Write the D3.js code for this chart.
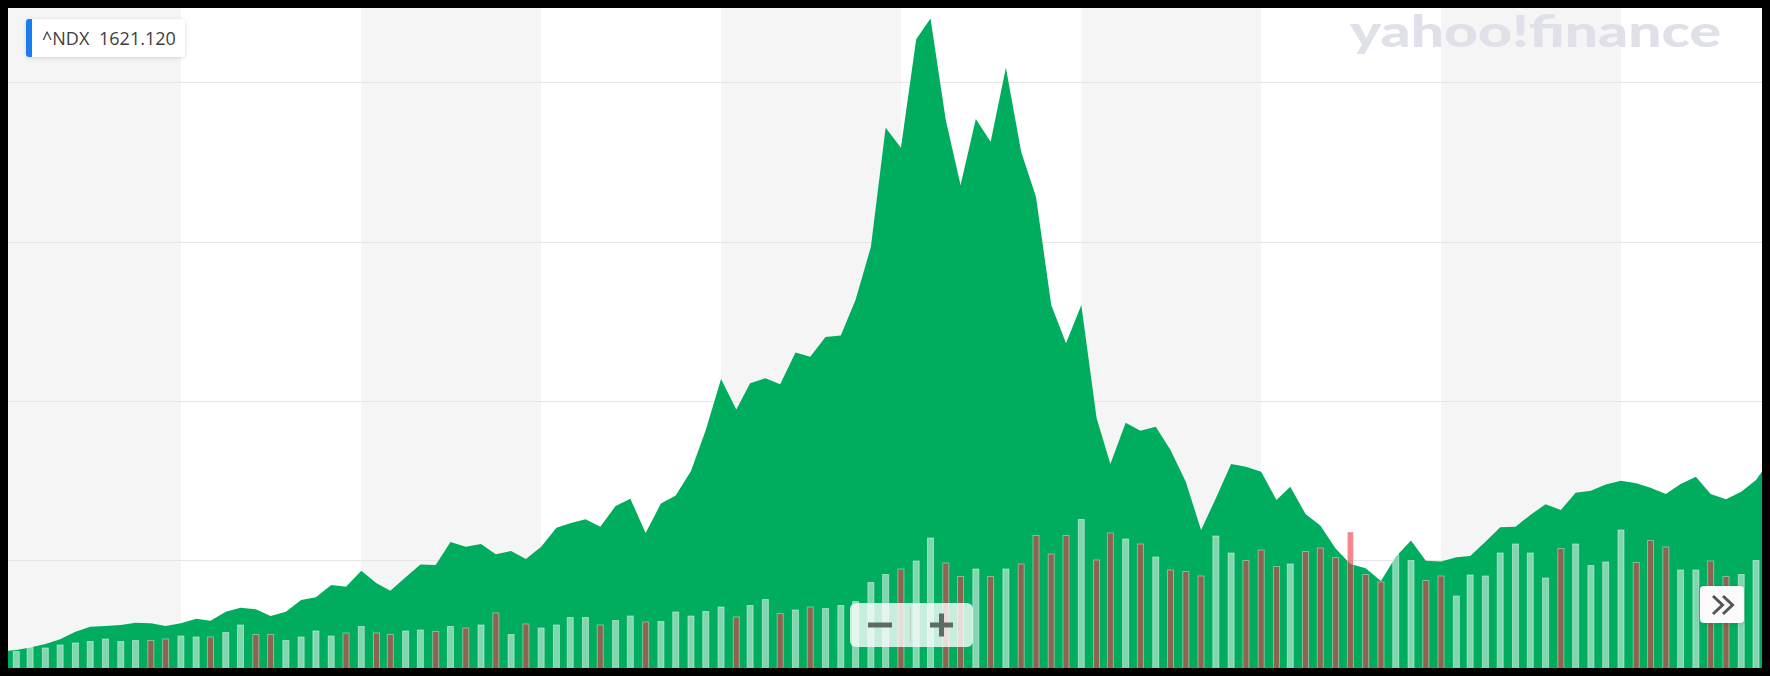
<!DOCTYPE html>
<html><head><meta charset="utf-8">
<script src="https://cdn.jsdelivr.net/npm/d3@7"></script>
<style>html,body{margin:0;padding:0;background:#000;}svg{display:block}</style>
</head><body>
<svg id="chart" width="1770" height="676"></svg>
<script>
// ---- data ----
const symbol = "^NDX";
const lastValueLabel = "1621.120";
const watermark = "yahoo!finance";
const firstMonth = "1995-01-01";
// monthly close, Jan 1995 .. Dec 2004
const closes = [
  425,435,450,472,502,550,581,586,592,606,602,585,
  602,631,619,675,700,690,648,675,749,766,843,832,
  933,854,807,891,972,969,1113,1084,1100,1036,1057,1006,
  1084,1203,1231,1256,1209,1339,1385,1170,1355,1405,1559,1817,
  2137,1945,2111,2142,2104,2303,2277,2400,2410,2634,2966,3715,
  3590,4271,4402,3764,3355,3770,3627,4092,3565,3282,2602,2361,
  2602,1892,1603,1862,1812,1837,1691,1492,1188,1388,1603,1586,
  1555,1377,1460,1289,1217,1073,975,948,868,1021,1122,996,
  991,1017,1025,1115,1205,1209,1283,1350,1314,1423,1435,1475,
  1498,1482,1454,1415,1477,1523,1415,1381,1429,1502,1641,1621.12
];
// monthly volume (relative units), Jan 1995 .. Oct 2004 (visible part)
const volumes = [
  3.2,3.4,4.2,4.1,4.7,5.1,5.4,5.9,5.4,5.6,5.6,5.9,
  6.5,6.3,6.3,7.2,8.7,6.8,6.8,5.6,6.3,7.5,6.5,7.1,
  8.4,7.1,6.8,7.5,7.7,7.4,8.4,8.1,8.7,11.1,6.8,8.9,
  8.1,8.7,10.2,10.2,8.7,9.6,10.5,9.3,9.4,11.3,10.5,11.4,
  12.3,10.3,12.6,13.8,11.0,11.7,12.3,12.0,12.6,13.4,17.2,18.8,
  19.9,21.5,26.1,21.1,18.4,19.9,18.4,19.9,20.9,26.6,22.9,26.6,
  29.8,21.7,27.1,25.9,24.9,22.3,19.7,19.4,18.5,26.5,23.1,21.6,
  23.7,20.4,20.9,23.4,24.1,22.2,27.3,18.8,17.3,22.8,21.6,17.6,
  18.5,14.5,18.7,18.5,23.1,24.9,23.1,18.1,24.0,24.9,20.6,21.3,
  27.7,21.2,25.6,24.3,19.7,19.7,21.5,18.4,18.8,21.6
];
const gridTicks = [1000, 2000, 3000, 4000];
const years = [1995,1996,1997,1998,1999,2000,2001,2002,2003,2004,2005];

// ---- build ----
const W = 1770, H = 676;
const inner = {x0: 8, y0: 8, x1: 1762, y1: 668};
const start = new Date(firstMonth + "T00:00:00Z");
const dates = closes.map((_, i) => d3.utcMonth.offset(start, i));
const priceData = closes.map((c, i) => ({date: dates[i], close: c}));
const volData = volumes.map((v, i) => ({
  date: dates[i], vol: v,
  up: i === 0 ? true : closes[i] >= closes[i - 1]
}));

const x = d3.scaleUtc().domain([dates[0], dates[117]]).range([1, 1756]);
const y = d3.scaleLinear().domain([1000, 4000]).range([560, 82.4]);
const yv = d3.scaleLinear().domain([0, 40]).range([inner.y1, inner.y1 - 200]);

const svg = d3.select("#chart");
svg.append("rect").attr("width", W).attr("height", H).attr("fill", "#000");

const defs = svg.append("defs");
defs.append("clipPath").attr("id", "plotClip").append("rect")
  .attr("x", inner.x0).attr("y", inner.y0)
  .attr("width", inner.x1 - inner.x0).attr("height", inner.y1 - inner.y0);
const sh = defs.append("filter").attr("id", "shadow").attr("x", "-20%").attr("y", "-40%")
  .attr("width", "140%").attr("height", "180%");
sh.append("feDropShadow").attr("dx", 0).attr("dy", 1).attr("stdDeviation", 2)
  .attr("flood-color", "#000").attr("flood-opacity", 0.15);

const g = svg.append("g").attr("clip-path", "url(#plotClip)");
g.append("rect").attr("x", inner.x0).attr("y", inner.y0)
  .attr("width", inner.x1 - inner.x0).attr("height", inner.y1 - inner.y0).attr("fill", "#fff");

// alternating year bands
g.selectAll("rect.band").data(years.slice(0, -1).filter((yr, i) => i % 2 === 0)).join("rect")
  .attr("class", "band")
  .attr("x", d => x(new Date(Date.UTC(d, 0, 1))))
  .attr("width", d => x(new Date(Date.UTC(d + 1, 0, 1))) - x(new Date(Date.UTC(d, 0, 1))))
  .attr("y", inner.y0).attr("height", inner.y1 - inner.y0)
  .attr("fill", "#f5f5f5");

// grid lines
g.selectAll("line.grid").data(gridTicks).join("line")
  .attr("class", "grid")
  .attr("x1", inner.x0).attr("x2", inner.x1)
  .attr("y1", d => Math.round(y(d)) + 0.5).attr("y2", d => Math.round(y(d)) + 0.5)
  .attr("stroke", "#e6e6e6").attr("stroke-width", 1);

// watermark
g.append("text").attr("x", 1350).attr("y", 47)
  .attr("font-family", "Lato, 'Open Sans', sans-serif").attr("font-weight", 900)
  .attr("font-size", 44).attr("fill", "#dfe0e8")
  .attr("textLength", 371).attr("lengthAdjust", "spacingAndGlyphs")
  .text(watermark);

// price area
const area = d3.area().x(d => x(d.date)).y0(inner.y1).y1(d => y(d.close));
g.append("path").datum(priceData).attr("d", area).attr("fill", "#00ad5f");

// volume bars
g.selectAll("rect.vol").data(volData).join("rect")
  .attr("class", "vol")
  .attr("x", d => x(d.date) - 3)
  .attr("width", 6)
  .attr("y", d => yv(d.vol) + 0.5)
  .attr("height", d => inner.y1 - yv(d.vol))
  .attr("fill", d => d.up ? "rgba(255,255,255,0.5)" : "rgba(233,52,70,0.6)")
  .attr("stroke", d => d.up ? "rgba(255,255,255,0.45)" : "rgba(255,255,255,0.4)")
  .attr("stroke-width", 1);

// zoom control
const zc = g.append("g");
zc.append("rect").attr("x", 850).attr("y", 603).attr("width", 123).attr("height", 44).attr("rx", 6)
  .attr("fill", "rgba(255,255,255,0.78)");
zc.append("line").attr("x1", 910.5).attr("x2", 910.5).attr("y1", 607).attr("y2", 643)
  .attr("stroke", "rgba(190,200,195,0.8)");
zc.append("line").attr("x1", 868).attr("x2", 892).attr("y1", 625).attr("y2", 625)
  .attr("stroke", "#5e6b64").attr("stroke-width", 5);
zc.append("line").attr("x1", 930).attr("x2", 953).attr("y1", 625).attr("y2", 625)
  .attr("stroke", "#5e6b64").attr("stroke-width", 5);
zc.append("line").attr("x1", 941.5).attr("x2", 941.5).attr("y1", 613.5).attr("y2", 636.5)
  .attr("stroke", "#5e6b64").attr("stroke-width", 5);

// scroll-to-end button
const nb = g.append("g");
nb.append("rect").attr("x", 1700).attr("y", 586).attr("width", 44).attr("height", 37).attr("rx", 4)
  .attr("fill", "#fafafa").attr("filter", "url(#shadow)");
[0, 10].forEach(off => {
  nb.append("polyline")
    .attr("points", `${1713 + off},596 ${1722.5 + off},605 ${1713 + off},614`)
    .attr("fill", "none").attr("stroke", "#555").attr("stroke-width", 3);
});

// symbol label
const lb = svg.append("g");
lb.append("rect").attr("x", 26).attr("y", 19).attr("width", 159).attr("height", 38).attr("rx", 4)
  .attr("fill", "#fff").attr("filter", "url(#shadow)");
lb.append("rect").attr("x", 26).attr("y", 19).attr("width", 8).attr("height", 38).attr("rx", 3)
  .attr("fill", "#1a7cf0");
lb.append("rect").attr("x", 32).attr("y", 19).attr("width", 4).attr("height", 38).attr("fill", "#fff");
const t = lb.append("text").attr("y", 45).attr("font-family", "'Open Sans', sans-serif")
  .attr("font-size", 18).attr("fill", "#3d3d3d");
t.append("tspan").attr("x", 42).text(symbol);
t.append("tspan").attr("x", 99).text(lastValueLabel);
</script>
</body></html>
